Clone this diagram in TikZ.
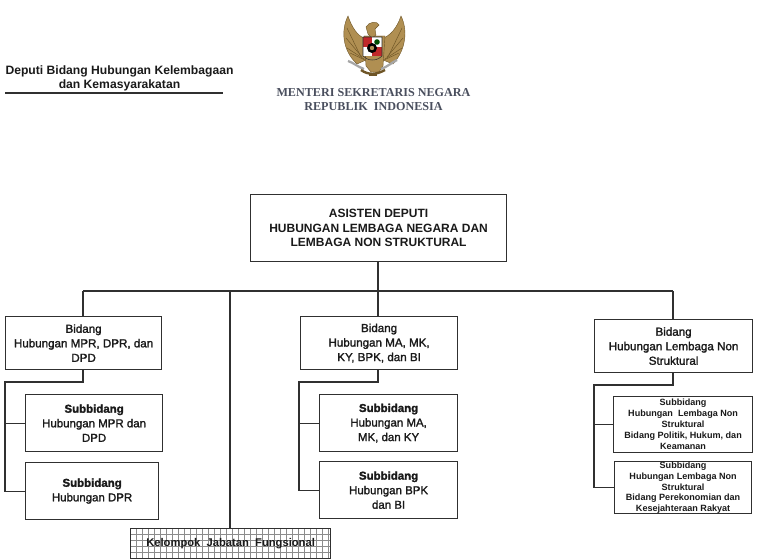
\documentclass[tikz,border=0pt]{standalone}
\usepackage{fontspec}
\setmainfont{Liberation Sans}
\newfontfamily\serifhead{Liberation Serif}
\newfontfamily\semib[FakeBold=1.6]{Liberation Sans}
\definecolor{ln}{HTML}{303030}
\definecolor{txt}{HTML}{1A1A1A}
\definecolor{gold}{HTML}{B08F52}
\definecolor{golddk}{HTML}{6E5526}
\definecolor{emred}{HTML}{C0282A}
\definecolor{headc}{HTML}{4A4F5E}
\tikzset{
 box/.style={draw=ln,line width=.9pt,rectangle,inner sep=0pt,align=center,text=txt,anchor=north west},
 conn/.style={draw=ln,line width=.9pt},
 lv1/.style={font=\fontsize{8.7}{10.9}\selectfont\semib},
 lv2/.style={font=\fontsize{8.6}{10.9}\selectfont\semib},
 lv3/.style={font=\fontsize{6.8}{8.2}\selectfont\bfseries},
 wing/.style={fill=gold,draw=golddk,line width=.3pt},
 feather/.style={draw=golddk,line width=.35pt},
 ribbon/.style={draw=black!35,line width=1.7pt},
 gridl/.style={draw=black!45,line width=.45pt},
}
\newcommand{\bx}[7]{\node[box,#1,minimum width=#4*.75pt,minimum height=#5*.75pt] (#2) at (#3) {#6};}
\begin{document}
\begin{tikzpicture}[x=.75pt,y=-.75pt]
\useasboundingbox (0,0) rectangle (757,560);
\fill[white] (0,0) rectangle (757,560);
% emblem
\fill[wing] (348,16) .. controls (341,30) and (342,50) .. (357,64) -- (366,60) -- (364,38) .. controls (358,36) and (352,28) .. (348,16) -- cycle;
\fill[wing] (401,16) .. controls (408,30) and (406,50) .. (393,64) -- (383,60) -- (383,38) .. controls (390,36) and (397,28) .. (401,16) -- cycle;
\foreach \a/\b in {347/360,346/362,347/364,350/365}{\draw[feather] (\a,{28+(\b-360)*5}) -- (\b,{55+(\b-360)});}
\foreach \a/\b in {402/389,403/387,402/385,399/384}{\draw[feather] (\a,{28+(389-\b)*5}) -- (\b,{55+(389-\b)});}
\fill[wing] (364,36) -- (385,36) -- (383,66) -- (379,72) -- (371,72) -- (366,66) -- cycle;
\fill[wing] (366,27) .. controls (369,21) and (378,21) .. (379,25) -- (375,29) -- (376,35) -- (372,38) -- (368,34) -- cycle;
\fill[emred] (363,37) rectangle (372,47);
\fill[white] (372,37) rectangle (382,47);
\fill[white] (363,47) rectangle (372,56);
\fill[emred] (372,47) rectangle (382,56);
\fill[black] (372,48) circle (5);
\fill[gold] (372,48) circle (2.2);
\fill[black!70!green] (377,42) circle (2.8);
\draw[ln,line width=.4pt] (363,37) -- (382,37) -- (382,56) .. controls (378,60) and (374,60) .. (372,60) .. controls (368,60) and (365,58) .. (363,56) -- cycle;
\draw[ribbon] (348,61) .. controls (354,63) and (358,67) .. (364,69);
\draw[ribbon] (397,60) .. controls (391,63) and (387,67) .. (381,69);
\draw[golddk,line width=1.8pt] (361,70) .. controls (368,75) and (376,75) .. (385,70);
\draw[golddk,line width=1.6pt] (369,75) -- (377,75);
\node[font={\fontsize{9.1}{11}\selectfont\serifhead\bfseries},text=headc,align=center] (org) at (373.5,99.5) {MENTERI SEKRETARIS NEGARA\\REPUBLIK\ \ INDONESIA};
\node[font={\fontsize{9.1}{11}\selectfont\bfseries},text=txt,align=center] (dep) at (119.5,78.5) {Deputi Bidang Hubungan Kelembagaan\\dan Kemasyarakatan};
\coordinate (ulL) at (5,93); \coordinate (ulR) at (223,93);
\draw[conn,line width=.8pt] (ulL) -- (ulR);
% grid box
\begin{scope}
\clip (130,528) rectangle (330,558);
\foreach \i in {0,...,33} \draw[gridl] (130+6*\i,528) -- (130+6*\i,558);
\foreach \i in {0,...,5} \draw[gridl] (130,528+6*\i) -- (330,528+6*\i);
\end{scope}
% boxes
\bx{font={\fontsize{9}{10.9}\selectfont\bfseries}}{top}{250,194}{256}{67}{ASISTEN DEPUTI\\HUBUNGAN LEMBAGA NEGARA DAN\\LEMBAGA NON STRUKTURAL}{}
\bx{lv1}{b1}{5,316}{156}{53}{Bidang\\Hubungan MPR, DPR, dan\\DPD}{}
\bx{lv1}{b2}{300,316}{157}{53}{Bidang\\Hubungan MA, MK,\\KY, BPK, dan BI}{}
\bx{lv1}{b3}{594,319}{158}{53}{Bidang\\Hubungan Lembaga Non\\Struktural}{}
\bx{lv2}{s1}{25,394}{137}{57}{{\bfseries Subbidang}\\Hubungan MPR dan\\DPD}{}
\bx{lv2}{s2}{25,462}{133}{57}{{\bfseries Subbidang}\\Hubungan DPR}{}
\bx{lv2}{s3}{319,394}{138}{57}{{\bfseries Subbidang}\\Hubungan MA,\\MK, dan KY}{}
\bx{lv2}{s4}{319,461}{138}{57}{{\bfseries Subbidang}\\Hubungan BPK\\dan BI}{}
\bx{lv3}{s5}{613,396}{139}{56}{\raisebox{1pt}{Subbidang}\\\raisebox{1pt}{Hubungan\ \ Lembaga Non}\\\raisebox{1pt}{Struktural}\\\raisebox{1pt}{Bidang Politik, Hukum, dan}\\\raisebox{1pt}{Keamanan}}{}
\bx{lv3}{s6}{614,461}{137}{52}{Subbidang\\Hubungan Lembaga Non\\Struktural\\Bidang Perekonomian dan\\Kesejahteraan Rakyat}{}
\node[box,minimum width=200*.75pt,minimum height=30*.75pt,font={\fontsize{8.4}{10}\selectfont\bfseries}] (kj) at (130,528) {Kelompok\ \ Jabatan\ \ Fungsional};
% connectors
\coordinate (bus) at (378,291);
\coordinate (busL) at (83,291);
\coordinate (busR) at (673,291);
\draw[conn] (top.south -| bus) -- (bus);
\draw[conn] (busL) -- (busR);
\draw[conn] (busL) -- (busL |- b1.north);
\draw[conn] (bus) -- (bus |- b2.north);
\draw[conn] (busR) -- (busR |- b3.north);
\coordinate (busK) at (230,291);
\draw[conn] (busK) -- (busK |- kj.north);
\coordinate (t1) at (83,382); \coordinate (l1) at (5,382);
\draw[conn] (t1 |- b1.south) -- (t1) -- (l1) -- (l1 |- s2.west) -- (s2.west);
\draw[conn] (l1 |- s1.west) -- (s1.west);
\coordinate (t2) at (378,382); \coordinate (l2) at (299,382);
\draw[conn] (t2 |- b2.south) -- (t2) -- (l2) -- (l2 |- s4.west) -- (s4.west);
\draw[conn] (l2 |- s3.west) -- (s3.west);
\coordinate (t3) at (673,385); \coordinate (l3) at (594,385);
\draw[conn] (t3 |- b3.south) -- (t3) -- (l3) -- (l3 |- s6.west) -- (s6.west);
\draw[conn] (l3 |- s5.west) -- (s5.west);
\end{tikzpicture}
\end{document}
